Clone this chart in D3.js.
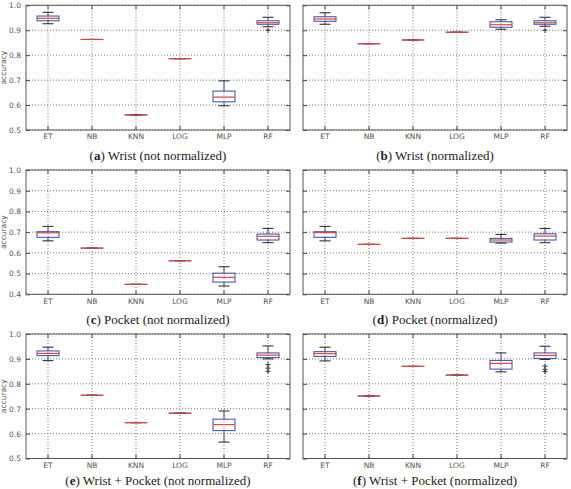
<!DOCTYPE html>
<html>
<head>
<meta charset="utf-8">
<script src="https://cdn.jsdelivr.net/npm/d3@7"></script>
<style>
  body { margin: 0; background: #fff; }
  svg { display: block; }
  .tick text { font-family: "DejaVu Sans", sans-serif; font-size: 7.5px; fill: #555; }
  .tick line { stroke: #444; }
  .caption { font-family: "Liberation Serif", serif; font-size: 13px; fill: #222; }
</style>
</head>
<body>
<div id="chart"></div>
<script>
// 分类器名称
const models = ["ET", "NB", "KNN", "LOG", "MLP", "RF"];

// 每个分类器: [下须, Q1, 中位数, Q3, 上须]
const wristRaw = [
  [0.926, 0.938, 0.948, 0.957, 0.972],
  [0.863, 0.863, 0.863, 0.863, 0.863],
  [0.560, 0.560, 0.560, 0.560, 0.560],
  [0.786, 0.786, 0.786, 0.786, 0.786],
  [0.597, 0.613, 0.632, 0.656, 0.697],
  [0.914, 0.924, 0.930, 0.938, 0.952]
];
const wristRawFliers = [[], [], [], [], [], [0.900]];

const wristNorm = [
  [0.924, 0.936, 0.945, 0.954, 0.970],
  [0.846, 0.846, 0.846, 0.846, 0.846],
  [0.861, 0.861, 0.861, 0.861, 0.861],
  [0.892, 0.892, 0.892, 0.892, 0.892],
  [0.904, 0.912, 0.922, 0.934, 0.942],
  [0.916, 0.924, 0.930, 0.938, 0.952]
];
const wristNormFliers = [[], [], [], [], [], [0.900]];

const pocketRaw = [
  [0.658, 0.675, 0.697, 0.702, 0.728],
  [0.623, 0.623, 0.623, 0.623, 0.623],
  [0.448, 0.448, 0.448, 0.448, 0.448],
  [0.562, 0.562, 0.562, 0.562, 0.562],
  [0.440, 0.459, 0.482, 0.502, 0.533],
  [0.649, 0.662, 0.680, 0.691, 0.718]
];
const pocketRawFliers = [[], [], [], [], [], []];

const pocketNorm = [
  [0.658, 0.675, 0.698, 0.702, 0.728],
  [0.641, 0.641, 0.641, 0.641, 0.641],
  [0.670, 0.670, 0.670, 0.670, 0.670],
  [0.670, 0.670, 0.670, 0.670, 0.670],
  [0.647, 0.652, 0.662, 0.670, 0.689],
  [0.649, 0.662, 0.681, 0.692, 0.718]
];
const pocketNormFliers = [[], [], [], [], [], []];

const bothRaw = [
  [0.893, 0.913, 0.922, 0.932, 0.947],
  [0.754, 0.754, 0.754, 0.754, 0.754],
  [0.644, 0.644, 0.644, 0.644, 0.644],
  [0.682, 0.682, 0.682, 0.682, 0.682],
  [0.566, 0.612, 0.636, 0.658, 0.691],
  [0.900, 0.905, 0.915, 0.924, 0.952]
];
const bothRawFliers = [[], [], [], [], [], [0.877, 0.863, 0.850]];

const bothNorm = [
  [0.892, 0.910, 0.921, 0.929, 0.947],
  [0.751, 0.751, 0.751, 0.751, 0.751],
  [0.870, 0.870, 0.870, 0.870, 0.870],
  [0.835, 0.835, 0.835, 0.835, 0.835],
  [0.848, 0.859, 0.882, 0.894, 0.924],
  [0.898, 0.902, 0.914, 0.924, 0.951]
];
const bothNormFliers = [[], [], [], [], [], [0.871, 0.858, 0.849]];

// 版面布局
const W = 571, H = 489;
const cols = [[26, 290], [303, 567]];
const rows = [
  { top: 5.3, bottom: 130, yMin: 0.5, capGap: 30 },
  { top: 170, bottom: 294.3, yMin: 0.4, capGap: 30 },
  { top: 334, bottom: 458.5, yMin: 0.5, capGap: 26.5 }
];

const panels = [
  { tag: "a", title: "Wrist (not normalized)", stats: wristRaw, fliers: wristRawFliers, row: 0, col: 0 },
  { tag: "b", title: "Wrist (normalized)", stats: wristNorm, fliers: wristNormFliers, row: 0, col: 1 },
  { tag: "c", title: "Pocket (not normalized)", stats: pocketRaw, fliers: pocketRawFliers, row: 1, col: 0 },
  { tag: "d", title: "Pocket (normalized)", stats: pocketNorm, fliers: pocketNormFliers, row: 1, col: 1 },
  { tag: "e", title: "Wrist + Pocket (not normalized)", stats: bothRaw, fliers: bothRawFliers, row: 2, col: 0 },
  { tag: "f", title: "Wrist + Pocket (normalized)", stats: bothNorm, fliers: bothNormFliers, row: 2, col: 1 }
];

const BLUE = "#3848a6";
const RED = "#e0453c";
const GRID = "#777";

const svg = d3.select("#chart").append("svg")
  .attr("width", W)
  .attr("height", H);

function drawPanel(p) {
  const [x0, x1] = cols[p.col];
  const r = rows[p.row];
  const x = d3.scaleBand().domain(models).range([x0, x1]);
  const y = d3.scaleLinear().domain([r.yMin, 1.0]).range([r.bottom, r.top]);
  const yTicks = y.ticks(6);
  const cx = m => x(m) + x.bandwidth() / 2;
  const bw = x.bandwidth() * 0.5;
  const capW = bw * 0.5;

  const g = svg.append("g").attr("class", "panel-" + p.tag);

  // 网格线
  g.append("g").selectAll("line")
    .data(yTicks)
    .join("line")
    .attr("x1", x0).attr("x2", x1)
    .attr("y1", d => y(d)).attr("y2", d => y(d))
    .attr("stroke", GRID).attr("stroke-dasharray", "1,2");
  g.append("g").selectAll("line")
    .data(models)
    .join("line")
    .attr("x1", cx).attr("x2", cx)
    .attr("y1", r.top).attr("y2", r.bottom)
    .attr("stroke", GRID).attr("stroke-dasharray", "1,2");

  // 箱线图
  const data = models.map((m, i) => ({ m, s: p.stats[i], f: p.fliers[i] }));
  const box = g.append("g").selectAll("g")
    .data(data)
    .join("g");

  box.append("line")
    .attr("x1", d => cx(d.m)).attr("x2", d => cx(d.m))
    .attr("y1", d => y(d.s[0])).attr("y2", d => y(d.s[1]))
    .attr("stroke", BLUE);
  box.append("line")
    .attr("x1", d => cx(d.m)).attr("x2", d => cx(d.m))
    .attr("y1", d => y(d.s[3])).attr("y2", d => y(d.s[4]))
    .attr("stroke", BLUE);
  [0, 4].forEach(k => {
    box.append("line")
      .attr("x1", d => cx(d.m) - capW / 2).attr("x2", d => cx(d.m) + capW / 2)
      .attr("y1", d => y(d.s[k])).attr("y2", d => y(d.s[k]))
      .attr("stroke", "#222");
  });
  box.append("rect")
    .attr("x", d => cx(d.m) - bw / 2)
    .attr("width", bw)
    .attr("y", d => y(d.s[3]))
    .attr("height", d => Math.max(y(d.s[1]) - y(d.s[3]), 0.01))
    .attr("fill", "none")
    .attr("stroke", BLUE);
  box.append("line")
    .attr("x1", d => cx(d.m) - bw / 2).attr("x2", d => cx(d.m) + bw / 2)
    .attr("y1", d => y(d.s[2])).attr("y2", d => y(d.s[2]))
    .attr("stroke", RED).attr("stroke-width", 1.2);

  // 离群点
  box.selectAll("path")
    .data(d => d.f.map(v => ({ m: d.m, v })))
    .join("path")
    .attr("transform", d => `translate(${cx(d.m)},${y(d.v)})`)
    .attr("d", "M-2.5,0H2.5M0,-2.5V2.5")
    .attr("stroke", "#333");

  // 坐标轴（刻度向内）
  const left = g.append("g")
    .attr("transform", `translate(${x0},0)`)
    .call(d3.axisLeft(y).tickValues(yTicks).tickSizeInner(-4).tickSizeOuter(0).tickPadding(5)
      .tickFormat(p.col === 0 ? d3.format(".1f") : ""));
  const right = g.append("g")
    .attr("transform", `translate(${x1},0)`)
    .call(d3.axisRight(y).tickValues(yTicks).tickSizeInner(-4).tickSizeOuter(0).tickFormat(""));
  const bottom = g.append("g")
    .attr("transform", `translate(0,${r.bottom})`)
    .call(d3.axisBottom(x).tickSizeInner(-4).tickSizeOuter(0).tickPadding(4));
  const top = g.append("g")
    .attr("transform", `translate(0,${r.top})`)
    .call(d3.axisTop(x).tickSizeInner(-4).tickSizeOuter(0).tickFormat(""));
  [left, right, bottom, top].forEach(a => a.select(".domain").remove());

  // 边框
  g.append("rect")
    .attr("x", x0).attr("y", r.top)
    .attr("width", x1 - x0).attr("height", r.bottom - r.top)
    .attr("fill", "none").attr("stroke", "#555");

  if (p.col === 0) {
    g.append("text")
      .attr("transform", `translate(5.5,${(r.top + r.bottom) / 2}) rotate(-90)`)
      .attr("text-anchor", "middle")
      .style("font-family", "DejaVu Sans, sans-serif")
      .style("font-size", "7.5px")
      .style("fill", "#555")
      .text("accuracy");
  }

  // 子图标题
  const cap = g.append("text")
    .attr("class", "caption")
    .attr("x", (x0 + x1) / 2)
    .attr("y", r.bottom + r.capGap)
    .attr("text-anchor", "middle");
  cap.append("tspan").text("(");
  cap.append("tspan").attr("font-weight", "bold").text(p.tag);
  cap.append("tspan").text(") " + p.title);
}

panels.forEach(drawPanel);
</script>
</body>
</html>
